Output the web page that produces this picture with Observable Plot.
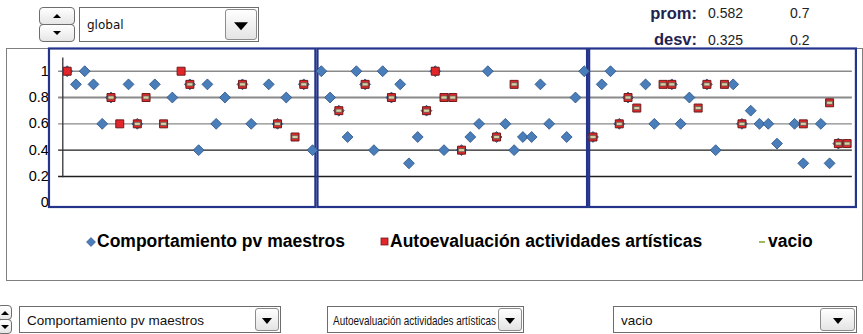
<!DOCTYPE html>
<html><head><meta charset="utf-8">
<script src="https://cdn.jsdelivr.net/npm/d3@7"></script>
<script src="https://cdn.jsdelivr.net/npm/@observablehq/plot@0.6"></script>
<style>
body{margin:0;background:#fff;font-family:"Liberation Sans",Arial,sans-serif;}
#wrap{position:relative;width:863px;height:334px;overflow:hidden;background:#fff;}
#frame{position:absolute;left:6px;top:48px;width:857px;height:233px;border:1px solid #7f7f7f;box-sizing:border-box;}
#chart{position:absolute;left:0;top:0;}
.combo{position:absolute;border:1px solid #6d6d6d;background:#fff;box-sizing:border-box;color:#111;white-space:nowrap;overflow:hidden;}
.combo .txt{position:absolute;left:7px;top:50%;transform:translateY(-50%);transform-origin:left center;}
.btn{position:absolute;top:1px;bottom:1px;right:1px;border:1px solid #8c8c8c;border-radius:3px;background:linear-gradient(#ffffff,#e4e4e4);box-sizing:border-box;}
.btn::after{content:"";position:absolute;left:50%;top:50%;width:0;height:0;transform:translate(-50%,-35%);}
.big::after{border-left:7px solid transparent;border-right:7px solid transparent;border-top:8px solid #000;}
.small::after{border-left:5px solid transparent;border-right:5px solid transparent;border-top:6px solid #000;}
.spin{position:absolute;box-sizing:border-box;}
.spin div{position:absolute;left:0;right:0;border:1px solid #6d6d6d;border-radius:4px;background:linear-gradient(#ffffff,#e6e6e6);box-sizing:border-box;}
.spin .up::after,.spin .dn::after{content:"";position:absolute;left:50%;top:50%;width:0;height:0;transform:translate(-50%,-50%);}
.spin .up::after{border-left:4px solid transparent;border-right:4px solid transparent;border-bottom:4px solid #000;}
.spin .dn::after{border-left:4px solid transparent;border-right:4px solid transparent;border-top:4px solid #000;}
.stat{position:absolute;font-size:14px;color:#222;}
.lab{position:absolute;font-weight:bold;font-size:16.5px;color:#1f2350;text-align:right;width:70px;}
.leg{position:absolute;top:231px;font-weight:bold;font-size:17.5px;color:#000;white-space:nowrap;display:flex;align-items:center;}
.leg svg{margin-right:1px;}
.bot{font-size:13.5px;}
</style>
</head><body>
<div id="wrap">
  <div id="frame"></div>
  <div id="chart"></div>

  <div class="spin" style="left:39px;top:7px;width:36px;height:35px;">
    <div class="up" style="top:0;height:18px;"></div>
    <div class="dn" style="top:17px;height:18px;"></div>
  </div>
  <div class="combo" style="left:79px;top:7px;width:180px;height:35px;font-family:'DejaVu Sans';font-size:12px;">
    <span class="txt" id="selGlobal"></span>
    <div class="btn big" style="width:32px;"></div>
  </div>

  <div class="lab" style="left:627px;top:4px;">prom:</div>
  <div class="lab" style="left:627px;top:30px;">desv:</div>
  <div class="stat" style="left:708px;top:5px;" id="p1"></div>
  <div class="stat" style="left:790px;top:5px;" id="p2"></div>
  <div class="stat" style="left:708px;top:32px;" id="d1"></div>
  <div class="stat" style="left:790px;top:32px;" id="d2"></div>

  <div class="leg" style="left:86px;" id="leg1"></div>
  <div class="leg" style="left:380px;" id="leg2"></div>
  <div class="leg" style="left:757px;" id="leg3"></div>

  <div class="spin" style="left:-3px;top:305px;width:15px;height:29px;">
    <div class="up" style="top:0;height:15px;"></div>
    <div class="dn" style="top:14px;height:15px;"></div>
  </div>
  <div class="combo bot" style="left:19px;top:306px;width:262px;height:27px;">
    <span class="txt" id="sel1"></span><div class="btn small" style="width:24px;"></div>
  </div>
  <div class="combo bot" style="left:327px;top:306px;width:197px;height:27px;">
    <span class="txt" id="sel2" style="left:5px;"></span><div class="btn small" style="width:24px;"></div>
  </div>
  <div class="combo bot" style="left:613px;top:306px;width:244px;height:27px;">
    <span class="txt" id="sel3"></span><div class="btn small" style="width:35px;"></div>
  </div>
</div>
<script>
// ---- data ----
const seriesNames = ["Comportamiento pv maestros", "Autoevaluación actividades artísticas", "vacio"];
const selector = "global";
const categories = d3.range(1, 91);
const comportamiento = [
  1.0,0.9,1.0,0.9,0.6,0.8,null,0.9,0.6,null,
  0.9,null,0.8,null,0.9,0.4,0.9,0.6,0.8,null,
  0.9,0.6,null,0.9,0.6,0.8,null,0.9,0.4,1.0,
  0.8,0.7,0.5,1.0,0.9,0.4,1.0,0.8,0.9,0.3,
  0.5,0.7,1.0,0.4,null,0.4,0.5,0.6,1.0,0.5,
  0.6,0.4,0.5,0.5,0.9,0.6,null,0.5,0.8,1.0,
  0.5,0.9,1.0,0.6,0.8,null,0.9,0.6,null,0.9,
  0.6,0.8,null,0.9,0.4,null,0.9,0.6,0.7,0.6,
  0.6,0.45,null,0.6,0.3,null,0.6,0.3,0.45,null
];
const autoevaluacion = [
  1.0,null,null,null,null,0.8,0.6,null,0.6,0.8,
  null,0.6,null,1.0,0.9,null,null,null,null,null,
  0.9,null,null,null,0.6,null,0.5,0.9,null,null,
  null,0.7,null,null,0.9,null,null,0.8,null,null,
  null,0.7,1.0,0.8,0.8,0.4,null,null,null,0.5,
  null,0.9,null,null,null,null,null,null,null,null,
  0.5,null,null,0.6,0.8,0.72,null,null,0.9,0.9,
  null,null,0.72,0.9,null,0.9,null,0.6,null,null,
  null,null,null,null,0.6,null,null,0.76,0.45,0.45
];
const vacio = [
  null,null,null,null,null,0.8,null,null,0.6,0.8,
  null,0.6,null,null,0.9,null,null,null,null,null,
  0.9,null,null,null,0.6,null,0.5,0.9,null,null,
  null,0.7,null,null,0.9,null,null,0.8,null,null,
  null,0.7,null,0.8,0.8,0.4,null,null,null,0.5,
  null,0.9,null,null,null,null,null,null,null,null,
  0.5,null,null,0.6,0.8,0.72,null,null,0.9,0.9,
  null,null,0.72,0.9,null,0.9,null,0.6,null,null,
  null,null,null,null,0.6,null,null,0.76,0.45,0.45
];
const panelSizes = [29, 31, 30];
const yTicks = [0, 0.2, 0.4, 0.6, 0.8, 1];
const yTickLabels = ["0", "0.2", "0.4", "0.6", "0.8", "1"];
const promValues = ["0.582", "0.7"];
const desvValues = ["0.325", "0.2"];

// ---- build ----
const rows = categories.map((c, i) => ({i, comp: comportamiento[i], auto: autoevaluacion[i], vac: vacio[i]}));

const panels = [];
let start = -0.5;
panelSizes.forEach((n, k) => {
  const end = start + n;
  panels.push({k, x1: start, x2: end});
  start = end;
});
const boxX1 = p => p.k === 0 ? p.x1 - 1.52 : p.x1 + 0.12;
const boxX2 = p => p.k === panels.length - 1 ? p.x2 + 0.56 : p.x2 - 0.12;

const dashSymbol = {draw(ctx) { ctx.moveTo(-3, -1.6); ctx.lineTo(3, -1.6); ctx.lineTo(3, 1.6); ctx.lineTo(-3, 1.6); ctx.closePath(); }};

const gridStroke = v => v >= 0.6 ? "#8a8a8a" : "#1e1e1e";
const gridWidth = v => v === 0.8 ? 2 : 1.4;

const chart = Plot.plot({
  width: 863, height: 334,
  marginLeft: 62.3, marginRight: 12, marginTop: 48.5, marginBottom: 127,
  x: {domain: [-0.5, 89.5], axis: null},
  y: {domain: [-0.0357, 1.1687], ticks: yTicks, tickSize: 0, tickPadding: 14,
      tickFormat: d => yTickLabels[yTicks.indexOf(d)], label: null},
  style: {background: "transparent", fontFamily: "'Liberation Sans', Arial, sans-serif", fontSize: "14.5px", color: "#000", overflow: "visible"},
  marks: [
    Plot.ruleY(yTicks.filter(v => v > 0), {y: d => d, x1: -0.98, x2: 89.6, stroke: gridStroke, strokeWidth: gridWidth}),
    Plot.ruleX([-0.5], {x: d => d, y1: 0.19, y2: 1.1, stroke: "#333", strokeWidth: 1.3}),
    Plot.rect(panels, {x1: boxX1, x2: boxX2, fill: "none", stroke: "#24348a", strokeWidth: 2.2}),
    Plot.dot(rows.filter(d => d.comp != null), {x: "i", y: "comp", symbol: "diamond2", r: 4.9, fill: "#4a7ebb", stroke: "#2b4f80", strokeWidth: 0.8}),
    Plot.dot(rows.filter(d => d.auto != null), {x: "i", y: "auto", symbol: "square", r: 4.5, fill: "#e2262a", stroke: "#6e1c1c", strokeWidth: 1}),
    Plot.dot(rows.filter(d => d.vac != null), {x: "i", y: "vac", symbol: dashSymbol, fill: "#d6cf9f", stroke: "#505050", strokeWidth: 0.7})
  ]
});
document.getElementById("chart").appendChild(chart);

// texts
document.getElementById("selGlobal").textContent = selector;
document.getElementById("p1").textContent = promValues[0];
document.getElementById("p2").textContent = promValues[1];
document.getElementById("d1").textContent = desvValues[0];
document.getElementById("d2").textContent = desvValues[1];
document.getElementById("sel1").textContent = seriesNames[0];
document.getElementById("sel2").textContent = seriesNames[1];
document.getElementById("sel3").textContent = seriesNames[2];

// shrink the second selector's text horizontally so it fits before its button
const s2 = document.getElementById("sel2");
const avail = 197 - 2 - 24 - 5 - 3;
const w2 = s2.getBoundingClientRect().width;
if (w2 > avail) s2.style.transform = `translateY(-50%) scaleX(${avail / w2})`;

const legMarkers = [
  '<svg width="10" height="10"><path d="M5 0.5 L9.5 5 L5 9.5 L0.5 5 Z" fill="#4a7ebb" stroke="#2b4f80" stroke-width="0.6"/></svg>',
  '<svg width="9" height="9"><rect x="1" y="1" width="7" height="7" fill="#e2262a" stroke="#6e1c1c" stroke-width="0.8"/></svg>',
  '<svg width="10" height="6"><rect x="2" y="2" width="6" height="2" fill="#9bbb59"/></svg>'
];
["leg1","leg2","leg3"].forEach((id, k) => {
  const el = document.getElementById(id);
  el.innerHTML = legMarkers[k];
  const s = document.createElement("span");
  s.textContent = seriesNames[k];
  el.appendChild(s);
});
</script>
</body></html>
